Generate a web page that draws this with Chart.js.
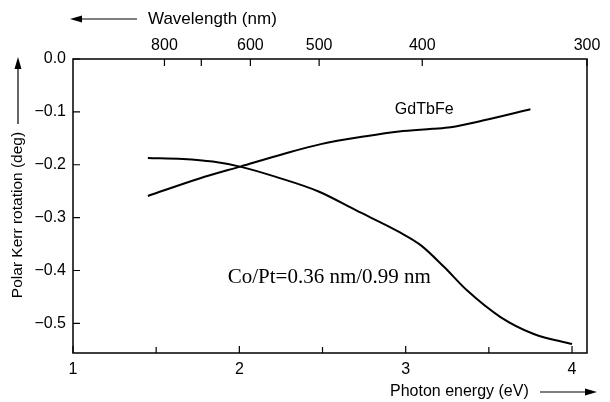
<!DOCTYPE html>
<html>
<head>
<meta charset="utf-8">
<script src="https://cdn.jsdelivr.net/npm/chart.js@4/dist/chart.umd.min.js"></script>
<style>
  body { margin: 0; background: #fff; }
  canvas { display: block; }
</style>
</head>
<body>
<canvas id="kerrCanvas" width="610" height="402"></canvas>
<script>
// Photon energy (eV) vs polar Kerr rotation (deg)
const gdtbfeEnergy = [1.45, 1.76, 2.01, 2.26, 2.49, 2.76, 2.96, 3.16, 3.27, 3.47, 3.75];
const gdtbfeRotation = [-0.259, -0.226, -0.203, -0.180, -0.161, -0.146, -0.137, -0.132, -0.129, -0.116, -0.095];

const coptEnergy = [1.45, 1.66, 1.84, 2.01, 2.22, 2.48, 2.70, 2.96, 3.09, 3.23, 3.37, 3.57, 3.77, 4.0];
const coptRotation = [-0.187, -0.189, -0.194, -0.204, -0.223, -0.251, -0.286, -0.327, -0.352, -0.393, -0.438, -0.488, -0.520, -0.539];

const energyTicks = [1, 2, 3, 4];
const energyMinorTicks = [1.5, 2.5, 3.5];
const rotationTicks = [0, -0.1, -0.2, -0.3, -0.4, -0.5];
const wavelengthTicks = [800, 700, 600, 500, 400, 300];
const wavelengthLabels = ['800', '', '600', '500', '400', '300'];

const xMin = 1, xMax = 4.09;
const sans = '"Liberation Sans", Arial, Helvetica, sans-serif';
const serif = '"Liberation Serif", "Times New Roman", serif';

function toPoints(xs, ys) {
  return xs.map((x, i) => ({ x: x, y: ys[i] }));
}

function arrow(ctx, x1, y1, x2, y2) {
  const ang = Math.atan2(y2 - y1, x2 - x1);
  const len = 12, half = 3.5;
  ctx.beginPath();
  ctx.moveTo(x1, y1);
  ctx.lineTo(x2 - Math.cos(ang) * len, y2 - Math.sin(ang) * len);
  ctx.stroke();
  ctx.beginPath();
  ctx.moveTo(x2, y2);
  ctx.lineTo(x2 - Math.cos(ang) * len - Math.sin(ang) * half, y2 - Math.sin(ang) * len + Math.cos(ang) * half);
  ctx.lineTo(x2 - Math.cos(ang) * len + Math.sin(ang) * half, y2 - Math.sin(ang) * len - Math.cos(ang) * half);
  ctx.closePath();
  ctx.fill();
}

// frame, inward ticks, axis titles with arrows, curve labels
const decorations = {
  id: 'decorations',
  afterDraw(chart) {
    const ctx = chart.ctx;
    const a = chart.chartArea;
    const x = chart.scales.x, x2 = chart.scales.x2, y = chart.scales.y;
    ctx.save();
    ctx.strokeStyle = '#000';
    ctx.fillStyle = '#000';
    ctx.lineWidth = 1.5;
    ctx.strokeRect(a.left, a.top, a.right - a.left, a.bottom - a.top);

    ctx.lineWidth = 1.2;
    ctx.beginPath();
    energyTicks.forEach(v => {
      const px = x.getPixelForValue(v);
      ctx.moveTo(px, a.bottom); ctx.lineTo(px, a.bottom - 7);
    });
    energyMinorTicks.forEach(v => {
      const px = x.getPixelForValue(v);
      ctx.moveTo(px, a.bottom); ctx.lineTo(px, a.bottom - 6);
    });
    x2.ticks.forEach(t => {
      const px = x2.getPixelForValue(t.value);
      ctx.moveTo(px, a.top); ctx.lineTo(px, a.top + 7);
    });
    rotationTicks.forEach(v => {
      const py = y.getPixelForValue(v);
      ctx.moveTo(a.left, py); ctx.lineTo(a.left + 7, py);
    });
    ctx.stroke();

    // axis titles
    ctx.lineWidth = 1.2;
    ctx.textBaseline = 'middle';
    ctx.textAlign = 'left';
    ctx.font = '17px ' + sans;
    ctx.fillText('Wavelength (nm)', 148, 19);
    arrow(ctx, 137, 19, 70, 19);
    ctx.font = '16px ' + sans;
    ctx.fillText('Photon energy (eV)', 390, 392);
    arrow(ctx, 540, 392, 597, 392);

    ctx.save();
    ctx.translate(18, 215);
    ctx.rotate(-Math.PI / 2);
    ctx.textAlign = 'center';
    ctx.font = '15.5px ' + sans;
    ctx.fillText('Polar Kerr rotation (deg)', 0, 0);
    ctx.restore();
    arrow(ctx, 18, 124, 18, 57);

    // curve labels
    ctx.textAlign = 'left';
    ctx.font = '16px ' + sans;
    ctx.fillText('GdTbFe', x.getPixelForValue(2.935), y.getPixelForValue(-0.096));
    ctx.font = '21px ' + serif;
    ctx.fillText('Co/Pt=0.36 nm/0.99 nm', x.getPixelForValue(1.93), y.getPixelForValue(-0.413));
    ctx.restore();
  }
};

new Chart(document.getElementById('kerrCanvas'), {
  type: 'line',
  data: {
    datasets: [
      {
        label: 'GdTbFe',
        data: toPoints(gdtbfeEnergy, gdtbfeRotation),
        borderColor: '#000',
        borderWidth: 2,
        pointRadius: 0,
        cubicInterpolationMode: 'monotone',
        fill: false,
      },
      {
        label: 'Co/Pt=0.36 nm/0.99 nm',
        data: toPoints(coptEnergy, coptRotation),
        borderColor: '#000',
        borderWidth: 2,
        pointRadius: 0,
        cubicInterpolationMode: 'monotone',
        fill: false,
      },
    ],
  },
  options: {
    responsive: false,
    animation: false,
    layout: { padding: { left: 0, right: 23, top: 0, bottom: 0 } },
    plugins: {
      legend: { display: false },
      tooltip: { enabled: false },
    },
    scales: {
      x: {
        type: 'linear',
        position: 'bottom',
        min: xMin,
        max: xMax,
        grid: { display: false, drawTicks: false },
        border: { display: false },
        afterBuildTicks: s => { s.ticks = energyTicks.map(v => ({ value: v })); },
        afterFit: s => { s.height = 49; },
        ticks: {
          color: '#000',
          font: { family: sans, size: 16 },
          padding: 7,
          maxRotation: 0,
          callback: v => String(v),
        },
      },
      x2: {
        type: 'linear',
        position: 'top',
        min: xMin,
        max: xMax,
        grid: { display: false, drawTicks: false },
        border: { display: false },
        afterBuildTicks: s => {
          s.ticks = wavelengthTicks.map(w => ({ value: Math.min(1239.84 / w, xMax) }));
        },
        afterFit: s => { s.height = 59; },
        ticks: {
          color: '#000',
          font: { family: sans, size: 16 },
          padding: 4,
          maxRotation: 0,
          callback: (v, i) => wavelengthLabels[i],
        },
      },
      y: {
        type: 'linear',
        min: -0.556,
        max: 0,
        grid: { display: false, drawTicks: false },
        border: { display: false },
        afterBuildTicks: s => { s.ticks = rotationTicks.map(v => ({ value: v })); },
        afterFit: s => { s.width = 73; },
        ticks: {
          color: '#000',
          font: { family: sans, size: 16 },
          padding: 7,
          callback: v => v === 0 ? '0.0' : '\u2212' + Math.abs(v).toFixed(1),
        },
      },
    },
  },
  plugins: [decorations],
});
</script>
</body>
</html>
